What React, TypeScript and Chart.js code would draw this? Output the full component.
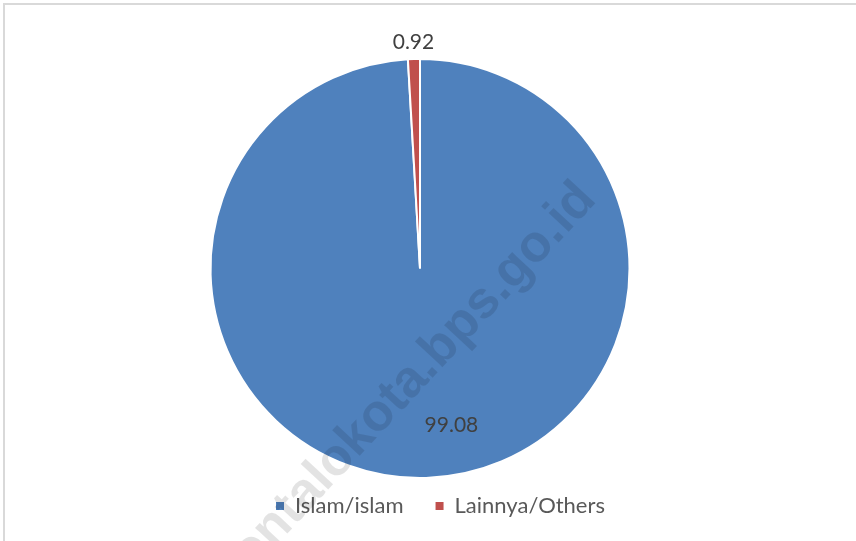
import React, { useEffect, useRef } from "react";
import { Chart, registerables } from "chart.js";

Chart.register(...registerables);

// ---- data ----
const categories: string[] = ["Islam/islam", "Lainnya/Others"];
const values: number[] = [99.08, 0.92];
const valueLabels: string[] = ["99.08", "0.92"];
const sliceColors: string[] = ["#4F81BD", "#C0504D"];
const watermarkHead = "gorontalokota";
const watermarkTail = ".bps.go.id";

// ---- style constants ----
const FONT = "Lato, 'Open Sans', sans-serif";
const TEXT_COLOR = "#404040";
const LEGEND_FONT_SIZE = 22;
const LEGEND_GAP = 32;
const LEGEND_START_X = 276;
const PIE_TOP = 58;
const PIE_BOTTOM = 479;

const layoutTweak = {
  id: "layoutTweak",
  afterLayout(chart: any) {
    const ca = chart.chartArea;
    ca.top = PIE_TOP;
    ca.bottom = PIE_BOTTOM;
    ca.height = ca.bottom - ca.top;
    const lg = chart.legend;
    if (lg && lg.lineWidths) {
      const start = (lg.left + LEGEND_GAP + lg.right - lg.lineWidths[0]) / 2;
      const dx = LEGEND_START_X - start;
      lg.left += dx;
      lg.right += dx;
    }
  },
};

const valueLabelPlugin = {
  id: "valueLabels",
  afterDatasetsDraw(chart: any) {
    const ctx = chart.ctx;
    const meta = chart.getDatasetMeta(0);
    ctx.save();
    ctx.font = `21px ${FONT}`;
    ctx.fillStyle = TEXT_COLOR;
    ctx.textAlign = "center";
    ctx.textBaseline = "middle";
    meta.data.forEach((arc: any, i: number) => {
      const p = arc.getProps(["x", "y", "startAngle", "endAngle", "outerRadius"], true);
      const mid = (p.startAngle + p.endAngle) / 2;
      let r: number;
      let a: number;
      if (i === 0) {
        r = p.outerRadius * 0.765;
        a = mid - (9.65 * Math.PI) / 180;
      } else {
        r = p.outerRadius + 17;
        a = mid;
      }
      ctx.fillText(valueLabels[i], p.x + r * Math.cos(a), p.y + r * Math.sin(a));
    });
    ctx.restore();
  },
};

const watermarkPlugin = {
  id: "watermark",
  afterDraw(chart: any) {
    const ctx = chart.ctx;
    ctx.save();
    ctx.font = `bold 52px 'Liberation Sans', Arial, sans-serif`;
    const headW = ctx.measureText(watermarkHead).width;
    const dotW = ctx.measureText(".").width;
    ctx.translate(433, 373);
    ctx.rotate((-47 * Math.PI) / 180);
    ctx.fillStyle = "rgba(0,0,0,0.11)";
    ctx.textAlign = "left";
    ctx.textBaseline = "alphabetic";
    ctx.fillText(watermarkHead + watermarkTail, -headW - dotW / 2, 3);
    ctx.restore();
  },
};

export default function App() {
  const canvasRef = useRef<HTMLCanvasElement | null>(null);

  useEffect(() => {
    document.body.style.margin = "0";
    const canvas = canvasRef.current;
    if (!canvas) return;
    const legendHeight = LEGEND_FONT_SIZE + LEGEND_GAP + 10;
    const legendTop = 506 - LEGEND_GAP - LEGEND_FONT_SIZE / 2;
    const padBottom = 541 - legendTop - legendHeight;
    const chart = new Chart(canvas, {
      type: "pie",
      data: {
        labels: categories,
        datasets: [
          {
            data: values,
            backgroundColor: sliceColors,
            borderColor: "#ffffff",
            borderWidth: 2,
            hoverOffset: 0,
          },
        ],
      },
      options: {
        responsive: false,
        animation: false,
        devicePixelRatio: 1,
        layout: {
          padding: { left: 4, right: 20, top: PIE_TOP, bottom: padBottom },
        },
        plugins: {
          tooltip: { enabled: false },
          legend: {
            position: "bottom",
            labels: {
              boxWidth: 8,
              boxHeight: 8,
              padding: LEGEND_GAP,
              color: "#595959",
              font: { family: FONT, size: LEGEND_FONT_SIZE },
              generateLabels: (c: any) =>
                Chart.overrides.pie.plugins.legend.labels
                  .generateLabels(c)
                  .map((l: any) => ({ ...l, lineWidth: 0 })),
            },
          },
        },
      },
      plugins: [layoutTweak, valueLabelPlugin, watermarkPlugin],
    } as any);
    return () => chart.destroy();
  }, []);

  return (
    <div style={{ position: "absolute", left: 0, top: 0, width: 856, height: 541, background: "#fff", overflow: "hidden" }}>
      <canvas ref={canvasRef} width={856} height={541} style={{ position: "absolute", left: 0, top: 0 }} />
      <div
        style={{
          position: "absolute",
          left: 3,
          top: 3,
          width: 900,
          height: 600,
          borderTop: "2px solid #d9d9d9",
          borderLeft: "2px solid #d9d9d9",
          pointerEvents: "none",
        }}
      />
    </div>
  );
}
